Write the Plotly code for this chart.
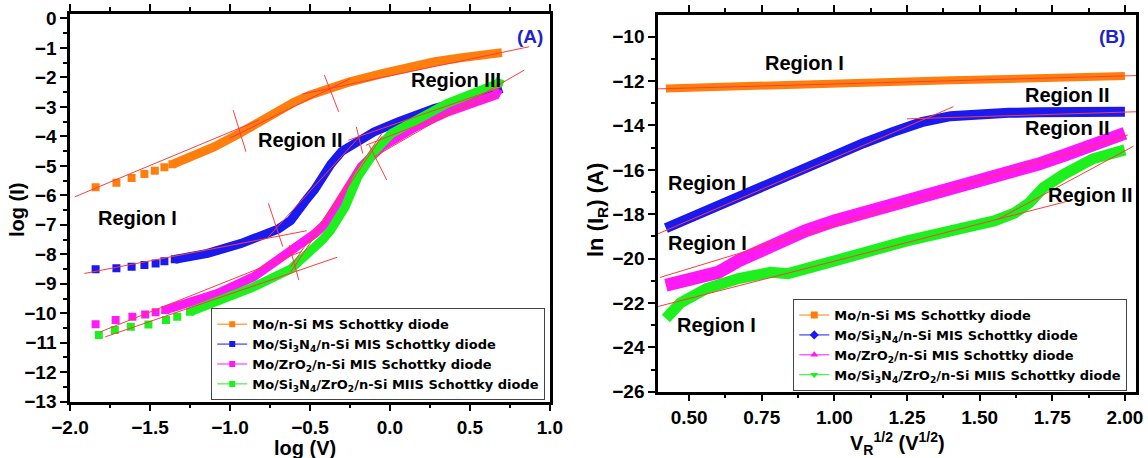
import plotly.graph_objects as go

# ---------------- Panel A data: log(I) vs log(V) ----------------
A_orange_pts_x = [-1.84, -1.71, -1.615, -1.535, -1.47, -1.41, -1.36]
A_orange_pts_y = [-5.73, -5.57, -5.41, -5.28, -5.17, -5.05, -4.95]
A_orange_band_x = [-1.36, -1.24, -1.1, -0.94, -0.85, -0.78, -0.68, -0.6, -0.5, -0.39, -0.25, -0.05, 0.1, 0.28, 0.45, 0.6, 0.7]
A_orange_band_y = [-4.95, -4.69, -4.36, -3.90, -3.62, -3.38, -3.05, -2.84, -2.6, -2.38, -2.15, -1.87, -1.68, -1.47, -1.33, -1.23, -1.16]

A_blue_pts_x = [-1.84, -1.71, -1.615, -1.535, -1.465, -1.41, -1.345]
A_blue_pts_y = [-8.51, -8.47, -8.42, -8.36, -8.31, -8.24, -8.17]
A_blue_band_x = [-1.345, -1.14, -0.93, -0.8, -0.7, -0.62, -0.57, -0.53, -0.47, -0.42, -0.37, -0.3, -0.2, -0.1, 0.05, 0.28, 0.53, 0.7]
A_blue_band_y = [-8.17, -7.97, -7.63, -7.38, -7.15, -6.85, -6.55, -6.2, -5.8, -5.35, -4.95, -4.5, -4.13, -3.85, -3.51, -3.05, -2.71, -2.38]

A_pink_pts_x = [-1.84, -1.715, -1.61, -1.53, -1.465, -1.405]
A_pink_pts_y = [-10.37, -10.23, -10.12, -10.04, -9.97, -9.89]
A_pink_band_x = [-1.405, -1.31, -1.08, -0.85, -0.67, -0.55, -0.47, -0.4, -0.345, -0.26, -0.18, -0.05, 0.16, 0.36, 0.57, 0.63, 0.66, 0.68]
A_pink_band_y = [-9.89, -9.72, -9.33, -8.76, -8.08, -7.55, -7.3, -6.95, -6.5, -5.82, -5.03, -4.35, -3.68, -3.17, -2.77, -2.68, -2.6, -2.4]

A_green_pts_x = [-1.82, -1.72, -1.62, -1.51, -1.40, -1.33, -1.25]
A_green_pts_y = [-10.74, -10.57, -10.46, -10.38, -10.23, -10.12, -9.95]
A_green_band_x = [-1.25, -1.08, -0.87, -0.62, -0.5, -0.42, -0.37, -0.28, -0.2, -0.09, 0.01, 0.16, 0.36, 0.57, 0.68, 0.69]
A_green_band_y = [-9.95, -9.61, -9.15, -8.5, -7.95, -7.5, -7.18, -6.39, -5.37, -4.47, -3.9, -3.45, -2.88, -2.43, -2.2, -2.05]

# fit lines (x pairs, y pairs) for panel A
A_fit_x = [[-1.97, -0.82], [-1.0, -0.25], [-0.55, 0.87],
           [-1.91, -0.52], [-0.76, -0.2], [-0.26, 0.70],
           [-1.81, -0.55], [-0.62, -0.05], [-0.15, 0.66],
           [-1.78, -0.33], [-0.62, -0.05], [-0.1, 0.84]]
A_fit_y = [[-6.05, -3.45], [-4.06, -2.05], [-2.57, -0.96],
           [-8.65, -7.2], [-7.41, -4.07], [-4.13, -2.32],
           [-10.63, -7.9], [-8.42, -3.9], [-4.3, -2.6],
           [-10.8, -8.1], [-8.6, -4.0], [-4.7, -1.75]]
# boundary markers (short red crossing segments)
A_cross_x = [[-0.98, -0.90], [-0.41, -0.32], [-0.76, -0.67], [-0.21, -0.17], [-0.63, -0.57], [-0.13, -0.02]]
A_cross_y = [[-3.11, -4.52], [-1.92, -3.17], [-6.27, -7.74], [-3.68, -4.58], [-7.69, -8.87], [-4.30, -5.48]]

# ---------------- Panel B data: ln(I_R) vs V_R^1/2 ----------------
B_orange_x = [0.42, 0.6, 0.8, 1.0, 1.2, 1.4, 1.6, 1.8, 2.0]
B_orange_y = [-12.33, -12.25, -12.17, -12.1, -12.03, -11.96, -11.9, -11.83, -11.77]
B_blue_x = [0.42, 0.6, 0.8, 1.0, 1.1, 1.2, 1.3, 1.4, 1.5, 1.6, 1.7, 1.8, 1.9, 2.0]
B_blue_y = [-18.63, -17.6, -16.45, -15.35, -14.8, -14.3, -13.85, -13.58, -13.47, -13.43, -13.4, -13.4, -13.4, -13.38]
B_pink_x = [0.42, 0.5, 0.56, 0.6, 0.67, 0.8, 0.9, 1.0, 1.1, 1.2, 1.3, 1.4, 1.5, 1.6, 1.7, 1.8, 1.9, 1.97, 2.0]
B_pink_y = [-21.2, -20.95, -20.75, -20.62, -20.1, -19.25, -18.75, -18.3, -17.95, -17.6, -17.25, -16.9, -16.5, -16.1, -15.75, -15.3, -14.8, -14.5, -14.35]
B_green_x = [0.42, 0.47, 0.56, 0.67, 0.78, 0.84, 0.96, 1.1, 1.25, 1.4, 1.55, 1.62, 1.67, 1.72, 1.79, 1.89, 2.0]
B_green_y = [-22.7, -22.0, -21.35, -20.9, -20.62, -20.68, -20.25, -19.7, -19.2, -18.75, -18.3, -17.95, -17.5, -16.8, -16.2, -15.5, -15.1]

B_fit_x = [[0.39, 2.04], [0.39, 1.41], [1.25, 2.04], [0.40, 2.01], [0.39, 1.81], [1.56, 2.03]]
B_fit_y = [[-12.35, -11.75], [-18.9, -13.15], [-13.70, -13.38], [-20.85, -14.43], [-22.17, -17.39], [-18.25, -14.93]]

series_names = [
    "Mo/n-Si MS Schottky diode",
    "Mo/Si<sub>3</sub>N<sub>4</sub>/n-Si MIS Schottky diode",
    "Mo/ZrO<sub>2</sub>/n-Si MIS Schottky diode",
    "Mo/Si<sub>3</sub>N<sub>4</sub>/ZrO<sub>2</sub>/n-Si MIIS Schottky diode",
]
colors = ["#FF7F0E", "#1A1AF0", "#FF1AF5", "#1EF01E"]
B_symbols = ["square", "diamond", "triangle-up", "triangle-down"]

A_x_ticks = [-2.0, -1.5, -1.0, -0.5, 0.0, 0.5, 1.0]
A_y_ticks = list(range(0, -14, -1))
B_x_ticks = [0.50, 0.75, 1.00, 1.25, 1.50, 1.75, 2.00]
B_y_ticks = list(range(-10, -27, -2))

RED = "#FF3B3B"
FONT = "Liberation Sans"
LEGFONT = "DejaVu Sans"

fig = go.Figure()

# ---- Panel A traces ----
A_pts = [(A_orange_pts_x, A_orange_pts_y), (A_blue_pts_x, A_blue_pts_y),
         (A_pink_pts_x, A_pink_pts_y), (A_green_pts_x, A_green_pts_y)]
A_band = [(A_orange_band_x, A_orange_band_y), (A_blue_band_x, A_blue_band_y),
          (A_pink_band_x, A_pink_band_y), (A_green_band_x, A_green_band_y)]
for i in range(4):
    fig.add_trace(go.Scatter(x=A_band[i][0], y=A_band[i][1], mode="lines",
                             line=dict(color=colors[i], width=9),
                             xaxis="x", yaxis="y", showlegend=False, hoverinfo="skip"))
    fig.add_trace(go.Scatter(x=A_pts[i][0], y=A_pts[i][1], mode="markers",
                             marker=dict(color=colors[i], symbol="square", size=8),
                             xaxis="x", yaxis="y", showlegend=False, hoverinfo="skip"))
for fx, fy in zip(A_fit_x + A_cross_x, A_fit_y + A_cross_y):
    fig.add_trace(go.Scatter(x=fx, y=fy, mode="lines", line=dict(color=RED, width=1),
                             xaxis="x", yaxis="y", showlegend=False, hoverinfo="skip"))

# ---- Panel B traces ----
B_data = [(B_orange_x, B_orange_y, 8), (B_blue_x, B_blue_y, 10),
          (B_pink_x, B_pink_y, 13), (B_green_x, B_green_y, 11)]
for i, (bx, by, w) in enumerate(B_data):
    fig.add_trace(go.Scatter(x=bx, y=by, mode="lines",
                             line=dict(color=colors[i], width=w),
                             xaxis="x2", yaxis="y2", showlegend=False, hoverinfo="skip"))
for fx, fy in zip(B_fit_x, B_fit_y):
    fig.add_trace(go.Scatter(x=fx, y=fy, mode="lines", line=dict(color=RED, width=1),
                             xaxis="x2", yaxis="y2", showlegend=False, hoverinfo="skip"))

# ---- legend entries ----
for i in range(4):
    fig.add_trace(go.Scatter(x=[None], y=[None], mode="lines+markers", name=series_names[i],
                             line=dict(color=colors[i], width=1),
                             marker=dict(color=colors[i], symbol="square", size=6),
                             xaxis="x", yaxis="y", legend="legend"))
for i in range(4):
    fig.add_trace(go.Scatter(x=[None], y=[None], mode="lines+markers", name=series_names[i],
                             line=dict(color=colors[i], width=1),
                             marker=dict(color=colors[i], symbol=B_symbols[i], size=7),
                             xaxis="x2", yaxis="y2", legend="legend2"))

tickfont = dict(family=FONT, size=19, color="black", weight="bold")
axis_common = dict(showline=True, linewidth=2.5, linecolor="black", ticks="outside",
                   ticklen=7, tickwidth=2, tickcolor="black", showgrid=False, zeroline=False,
                   tickfont=tickfont, automargin=False)
legfont = dict(family=LEGFONT, size=13, color="black", weight="bold")

fig.update_layout(
    width=1148, height=458, margin=dict(l=0, r=0, t=0, b=0, autoexpand=False),
    paper_bgcolor="white", plot_bgcolor="white",
    xaxis=dict(domain=[0.061, 0.479], range=[-2.0, 1.0], anchor="y",
               tickvals=A_x_ticks, tickformat=".1f", mirror="ticks",
               minor=dict(dtick=0.25, tick0=-2, ticklen=4, tickwidth=2, tickcolor="black", ticks="outside"),
               **axis_common),
    yaxis=dict(domain=[0.1229, 0.9694], range=[-13.0, 0.15], anchor="x",
               tickvals=A_y_ticks, mirror=True,
               minor=dict(dtick=0.5, tick0=0, ticklen=4, tickwidth=2, tickcolor="black", ticks="outside"),
               **axis_common),
    xaxis2=dict(domain=[0.5732, 0.9895], range=[0.393, 2.038], anchor="y2",
                tickvals=B_x_ticks, tickformat=".2f", mirror="ticks",
                minor=dict(dtick=0.125, tick0=0.5, ticklen=4, tickwidth=2, tickcolor="black", ticks="outside"),
                **axis_common),
    yaxis2=dict(domain=[0.1448, 0.9672], range=[-26.0, -9.02], anchor="x2",
                tickvals=B_y_ticks, mirror=True,
                minor=dict(dtick=1, tick0=-10, ticklen=4, tickwidth=2, tickcolor="black", ticks="outside"),
                **axis_common),
    legend=dict(x=0.184, y=0.327, xanchor="left", yanchor="top", bgcolor="white",
                bordercolor="#444", borderwidth=1, font=legfont,
                tracegroupgap=0, itemwidth=30),
    legend2=dict(x=0.691, y=0.347, xanchor="left", yanchor="top", bgcolor="white",
                 bordercolor="#444", borderwidth=1, font=legfont,
                 tracegroupgap=0, itemwidth=30),
)

rf = dict(family=FONT, size=20, color="black", weight="bold")
annA = [("Region III", 0.41, -2.09), ("Region II", -0.565, -4.13), ("Region I", -1.58, -6.78)]
for t, x, y in annA:
    fig.add_annotation(text=t, x=x, y=y, xref="x", yref="y", showarrow=False, font=rf)
fig.add_annotation(text="(A)", x=0.874, y=-0.62, xref="x", yref="y", showarrow=False,
                   font=dict(family=FONT, size=19, color="#2222CC", weight="bold"))
annB = [("Region I", 0.898, -11.2), ("Region II", 1.80, -12.63), ("Region II", 1.80, -14.13),
        ("Region I", 0.562, -16.6), ("Region II", 1.88, -17.13), ("Region I", 0.562, -19.3),
        ("Region I", 0.593, -23.0)]
for t, x, y in annB:
    fig.add_annotation(text=t, x=x, y=y, xref="x2", yref="y2", showarrow=False, font=rf)
fig.add_annotation(text="(B)", x=1.956, y=-10.0, xref="x2", yref="y2", showarrow=False,
                   font=dict(family=FONT, size=19, color="#2222CC", weight="bold"))

tf = dict(family=FONT, size=20, color="black", weight="bold")
ctr = dict(xref="paper", yref="paper", showarrow=False, font=tf, xanchor="center", yanchor="middle")
fig.add_annotation(text="log (V)", x=305 / 1148, y=1 - 448 / 458, **ctr)
fig.add_annotation(text="log (I)", x=17 / 1148, y=1 - 210 / 458, textangle=-90, **ctr)
fig.add_annotation(text="V<sub>R</sub><sup>1/2</sup> (V<sup>1/2</sup>)", x=897 / 1148, y=1 - 443 / 458, **ctr)
fig.add_annotation(text="ln (I<sub>R</sub>) (A)", x=597 / 1148, y=1 - 210 / 458, textangle=-90,
                   xref="paper", yref="paper", showarrow=False, xanchor="center", yanchor="middle",
                   font=dict(family=FONT, size=22, color="black", weight="bold"))

fig.write_html("out.html")
